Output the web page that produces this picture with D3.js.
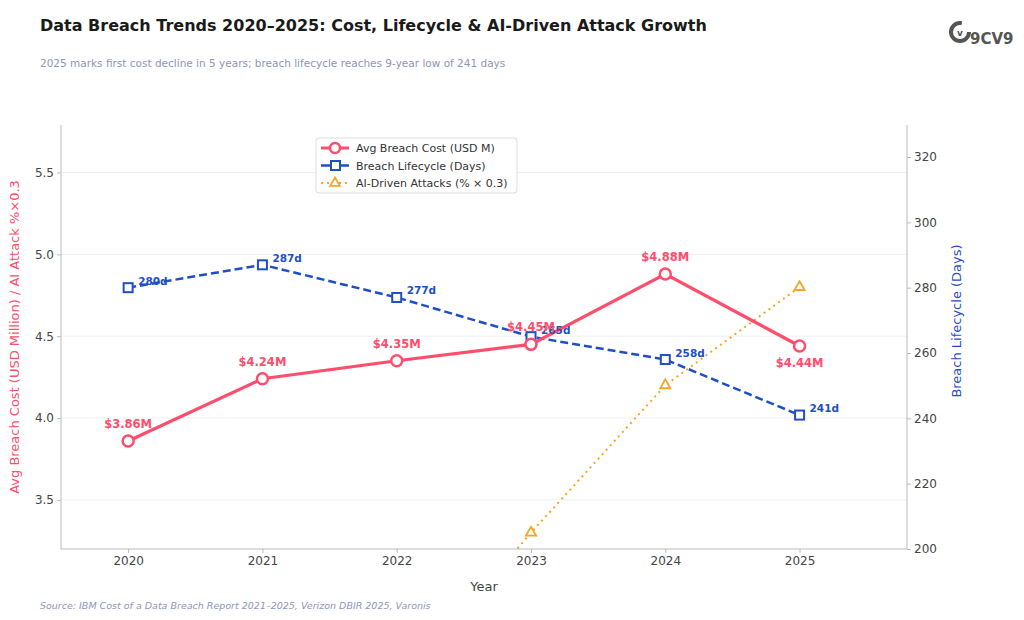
<!DOCTYPE html><html><head><meta charset="utf-8">
<script src="https://cdn.jsdelivr.net/npm/d3@7"></script>
<style>body{margin:0;background:#fff;font-family:"DejaVu Sans",sans-serif}</style></head><body>
<svg id="c" width="1024" height="620"></svg>
<script>
const years=[2020,2021,2022,2023,2024,2025];
const cost=[3.86,4.24,4.35,4.45,4.88,4.44];
const costLabels=["$3.86M","$4.24M","$4.35M","$4.45M","$4.88M","$4.44M"];
const days=[280,287,277,265,258,241];
const aiYears=[2022,2023,2024,2025];
const aiVals=[2.34,3.3,4.2,4.8];
const leftTicks=[3.5,4.0,4.5,5.0,5.5];
const rightTicks=[200,220,240,260,280,300,320];

const svg=d3.select("#c");
const L=61,R=907,T=125,B=549;
const x=d3.scaleLinear().domain([2019.5,2025.8]).range([L,R]);
const yl=d3.scaleLinear().domain([3.2,5.79]).range([B,T]);
const yr=d3.scaleLinear().domain([200,329.8]).range([B,T]);
const red="#ff4d6d",blue="#1f4fc4",orange="#f5a623";

svg.append("text").attr("x",40).attr("y",31).attr("font-size",16).attr("font-weight","bold").attr("fill","#1a1a1a").text("Data Breach Trends 2020–2025: Cost, Lifecycle & AI-Driven Attack Growth");
svg.append("text").attr("x",40).attr("y",67).attr("font-size",10.5).attr("fill","#8f95b8").text("2025 marks first cost decline in 5 years; breach lifecycle reaches 9-year low of 241 days");
svg.append("text").attr("x",40).attr("y",609).attr("font-size",9.5).attr("font-style","italic").attr("fill","#8f95b8").text("Source: IBM Cost of a Data Breach Report 2021–2025, Verizon DBIR 2025, Varonis");
// logo
const lg=svg.append("g").attr("fill","#555");
lg.append("circle").attr("cx",960).attr("cy",32).attr("r",9).attr("fill","none").attr("stroke","#555").attr("stroke-width",4).attr("stroke-dasharray","44 13");
lg.append("text").attr("x",960).attr("y",36).attr("text-anchor","middle").attr("font-size",9).attr("font-weight","bold").text("v");
lg.append("text").attr("x",970).attr("y",44).attr("font-size",15).attr("font-weight","bold").text("9CV9");

// grid
svg.append("g").selectAll("line").data(leftTicks).join("line").attr("x1",L).attr("x2",R).attr("y1",d=>yl(d)).attr("y2",d=>yl(d)).attr("stroke","#f0f0f0");
// axes
const ax=svg.append("g").attr("transform",`translate(0,${B})`).call(d3.axisBottom(x).tickValues(years).tickFormat(d3.format("d")).tickSize(4));
const al=svg.append("g").attr("transform",`translate(${L},0)`).call(d3.axisLeft(yl).tickValues(leftTicks).tickFormat(d3.format(".1f")).tickSize(4));
const ar=svg.append("g").attr("transform",`translate(${R},0)`).call(d3.axisRight(yr).tickValues(rightTicks).tickSize(4));
[ax,al,ar].forEach(g=>{g.selectAll("text").attr("font-size",12).attr("fill","#444").attr("font-family","DejaVu Sans");g.selectAll("line,path").attr("stroke","#bbb");});
ax.select(".domain").attr("d",`M${L},0H${R}`);
al.select(".domain").attr("d",`M0,${B}V${T}`);
ar.select(".domain").attr("d",`M0,${B}V${T}`);
svg.append("text").attr("x",(L+R)/2).attr("y",591).attr("text-anchor","middle").attr("font-size",13).attr("fill","#444").text("Year");
svg.append("text").attr("transform",`translate(19,${(T+B)/2}) rotate(-90)`).attr("text-anchor","middle").attr("font-size",13).attr("fill",red).text("Avg Breach Cost (USD Million) / AI Attack %×0.3");
svg.append("text").attr("transform",`translate(961,${(T+B)/2-16}) rotate(-90)`).attr("text-anchor","middle").attr("font-size",13).attr("fill",blue).text("Breach Lifecycle (Days)");

svg.append("clipPath").attr("id","cl").append("rect").attr("x",L).attr("y",T).attr("width",R-L).attr("height",B-T);
const g=svg.append("g").attr("clip-path","url(#cl)");
const ln=d3.line();
// AI
g.append("path").attr("d",ln(aiYears.map((y,i)=>[x(y),yl(aiVals[i])]))).attr("fill","none").attr("stroke",orange).attr("stroke-width",2).attr("stroke-dasharray","2 4");
g.selectAll(".tri").data(aiYears.map((y,i)=>[x(y),yl(aiVals[i])])).join("path").attr("d",d3.symbol(d3.symbolTriangle,45)).attr("transform",d=>`translate(${d[0]},${d[1]})`).attr("fill","#fff").attr("stroke",orange).attr("stroke-width",1.8);
// days
g.append("path").attr("d",ln(years.map((y,i)=>[x(y),yr(days[i])]))).attr("fill","none").attr("stroke",blue).attr("stroke-width",2.5).attr("stroke-dasharray","8 4");
g.selectAll(".sq").data(years.map((y,i)=>[x(y),yr(days[i])])).join("rect").attr("x",d=>d[0]-4.5).attr("y",d=>d[1]-4.5).attr("width",9).attr("height",9).attr("fill","#fff").attr("stroke",blue).attr("stroke-width",2);
svg.selectAll(".dl").data(years).join("text").attr("x",d=>x(d)+10).attr("y",(d,i)=>yr(days[i])-3).attr("font-size",10.5).attr("font-weight","bold").attr("fill",blue).text((d,i)=>days[i]+"d");
// cost
g.append("path").attr("d",ln(years.map((y,i)=>[x(y),yl(cost[i])]))).attr("fill","none").attr("stroke",red).attr("stroke-width",3.2);
g.selectAll(".ci").data(years.map((y,i)=>[x(y),yl(cost[i])])).join("circle").attr("cx",d=>d[0]).attr("cy",d=>d[1]).attr("r",5.5).attr("fill","#fff").attr("stroke",red).attr("stroke-width",2.5);
svg.selectAll(".cl").data(years).join("text").attr("x",d=>x(d)).attr("y",(d,i)=>i==5?yl(cost[i])+21:yl(cost[i])-13).attr("text-anchor","middle").attr("font-size",11.5).attr("font-weight","bold").attr("fill",red).text((d,i)=>costLabels[i]);

// legend
const lgd=svg.append("g").attr("transform","translate(316,138)");
lgd.append("rect").attr("width",201).attr("height",55).attr("rx",3).attr("fill","#fff").attr("stroke","#ddd");
const items=[["Avg Breach Cost (USD M)",red],["Breach Lifecycle (Days)",blue],["AI-Driven Attacks (% × 0.3)",orange]];
items.forEach((it,i)=>{const yy=10+i*17.5;
 const s=lgd.append("line").attr("x1",5).attr("x2",33).attr("y1",yy).attr("y2",yy).attr("stroke",it[1]).attr("stroke-width",i==0?3:i==1?2.5:2);
 if(i==2)s.attr("stroke-dasharray","2 4");
 if(i==0)lgd.append("circle").attr("cx",19).attr("cy",yy).attr("r",5).attr("fill","#fff").attr("stroke",red).attr("stroke-width",2.5);
 if(i==1)lgd.append("rect").attr("x",15).attr("y",yy-4.5).attr("width",9).attr("height",9).attr("fill","#fff").attr("stroke",blue).attr("stroke-width",2);
 if(i==2)lgd.append("path").attr("d",d3.symbol(d3.symbolTriangle,40)).attr("transform",`translate(19,${yy})`).attr("fill","#fff").attr("stroke",orange).attr("stroke-width",1.8);
 lgd.append("text").attr("x",40).attr("y",yy+4).attr("font-size",11).attr("fill","#333").text(it[0]);});
</script></body></html>
